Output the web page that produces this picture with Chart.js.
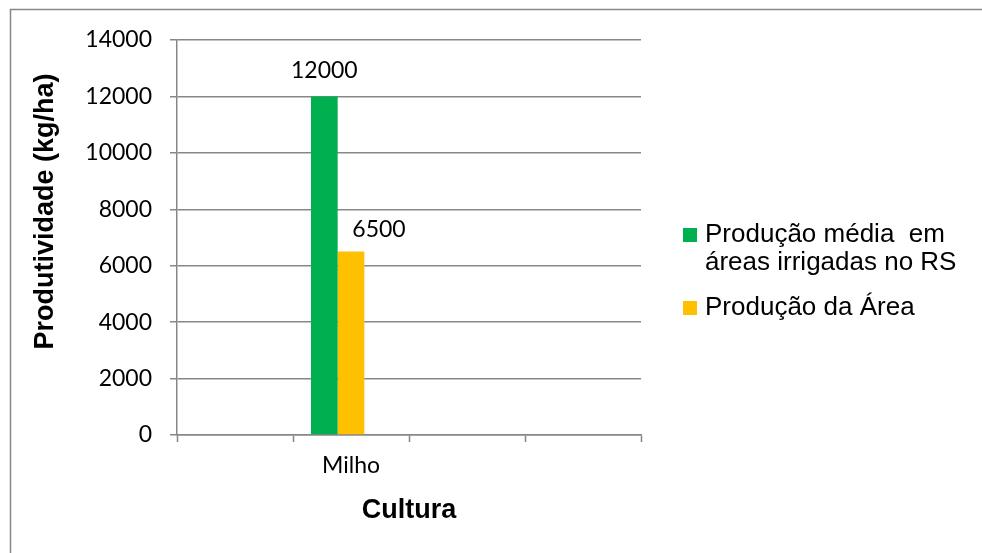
<!DOCTYPE html>
<html>
<head>
<meta charset="utf-8">
<script src="https://cdn.jsdelivr.net/npm/chart.js@4"></script>
<style>
  html, body { margin: 0; padding: 0; background: #fff; }
  #wrap { width: 982px; height: 553px; }
</style>
</head>
<body>
<div id="wrap"><canvas id="grafico" width="982" height="553"></canvas></div>
<script>
// dados do gráfico
const categorias = ["", "Milho", "", ""];
const mediaRS = [null, 12000, null, null];
const producaoArea = [null, 6500, null, null];
const serieVazia = [null, null, null, null];
const nomesSeries = ["Produção média  em áreas irrigadas no RS", "Produção da Área"];
const linhasLegenda = [["Produção média  em", "áreas irrigadas no RS"], ["Produção da Área"]];
const ticksY = [0, 2000, 4000, 6000, 8000, 10000, 12000, 14000];

// cores
const verde = "#00B050";
const amarelo = "#FFC000";
const cinza = "#878787";

// deslocamento manual dos rótulos (como no Excel)
const deslocRotulo = [[0, -26], [28, -22]];

// moldura externa (só aparece em cima e à esquerda)
const moldura = {
  id: "moldura",
  beforeDraw(chart) {
    const c = chart.ctx;
    c.save();
    c.fillStyle = "#fff";
    c.fillRect(0, 0, chart.width, chart.height);
    c.strokeStyle = cinza;
    c.lineWidth = 1.5;
    c.beginPath();
    c.moveTo(10.5, chart.height);
    c.lineTo(10.5, 9.5);
    c.lineTo(chart.width, 9.5);
    c.stroke();
    c.restore();
  },
};

// rótulos de dados e títulos dos eixos
const textos = {
  id: "textos",
  afterDatasetsDraw(chart) {
    const c = chart.ctx;
    const area = chart.chartArea;
    c.save();
    c.fillStyle = "#000";
    c.textAlign = "center";
    c.textBaseline = "middle";
    c.font = "23px Lato";
    [0, 1].forEach((ds) => {
      const meta = chart.getDatasetMeta(ds);
      meta.data.forEach((bar, i) => {
        const v = chart.data.datasets[ds].data[i];
        if (v == null) return;
        c.fillText(String(v), bar.x + deslocRotulo[ds][0], bar.y + deslocRotulo[ds][1]);
      });
    });
    //* título do eixo y
    c.font = "bold 27px 'Liberation Sans', Arial";
    c.save();
    c.translate(46, (area.top + area.bottom) / 2 - 26);
    c.rotate(-Math.PI / 2);
    c.fillText("Produtividade (kg/ha)", 0, 0);
    c.restore();
    //* título do eixo x
    c.fillText("Cultura", (area.left + area.right) / 2, 511);
    c.restore();
  },
};

// legenda desenhada à mão (primeiro item em duas linhas)
const legenda = {
  id: "legenda",
  afterDraw(chart) {
    const c = chart.ctx;
    const cores = [verde, amarelo];
    const topos = [235, 308];
    c.save();
    c.font = "26px 'Liberation Sans', Arial";
    c.textAlign = "left";
    c.textBaseline = "middle";
    linhasLegenda.forEach((linhas, k) => {
      c.fillStyle = cores[k];
      c.fillRect(683, topos[k] - 7, 14, 14);
      c.fillStyle = "#000";
      linhas.forEach((t, j) => c.fillText(t, 705, topos[k] + j * 28));
    });
    c.restore();
  },
};

const ctx = document.getElementById("grafico").getContext("2d");

new Chart(ctx, {
  type: "bar",
  data: {
    labels: categorias,
    datasets: [
      { label: nomesSeries[0], data: mediaRS, backgroundColor: verde },
      { label: nomesSeries[1], data: producaoArea, backgroundColor: amarelo },
      { label: "", data: serieVazia, backgroundColor: "rgba(0,0,0,0)" },
    ],
  },
  options: {
    responsive: false,
    animation: false,
    datasets: {
      bar: { categoryPercentage: 0.69, barPercentage: 1, borderWidth: 0 },
    },
    layout: { padding: { top: 40, right: 341, left: 0, bottom: 0 } },
    plugins: {
      legend: { display: false },
      tooltip: { enabled: false },
    },
    scales: {
      x: {
        offset: true,
        afterFit: (s) => { s.height = 118; },
        grid: {
          offset: true,
          drawOnChartArea: false,
          drawTicks: true,
          tickLength: 7,
          tickColor: cinza,
          tickWidth: 1.5,
        },
        border: { color: cinza, width: 1.5 },
        ticks: {
          color: "#000",
          padding: 10,
          maxRotation: 0,
          autoSkip: false,
          font: { family: "Lato", size: 23 },
        },
      },
      y: {
        min: 0,
        max: 14000,
        afterFit: (s) => { s.width = 177; },
        afterBuildTicks: (s) => { s.ticks = ticksY.map((v) => ({ value: v })); },
        grid: {
          color: cinza,
          lineWidth: 1.5,
          drawTicks: true,
          tickLength: 7,
          tickColor: cinza,
        },
        border: { color: cinza, width: 1.5 },
        ticks: {
          color: "#000",
          padding: 18,
          font: { family: "Lato", size: 23 },
          callback: (v) => String(v),
        },
      },
    },
  },
  plugins: [moldura, textos, legenda],
});
</script>
</body>
</html>
